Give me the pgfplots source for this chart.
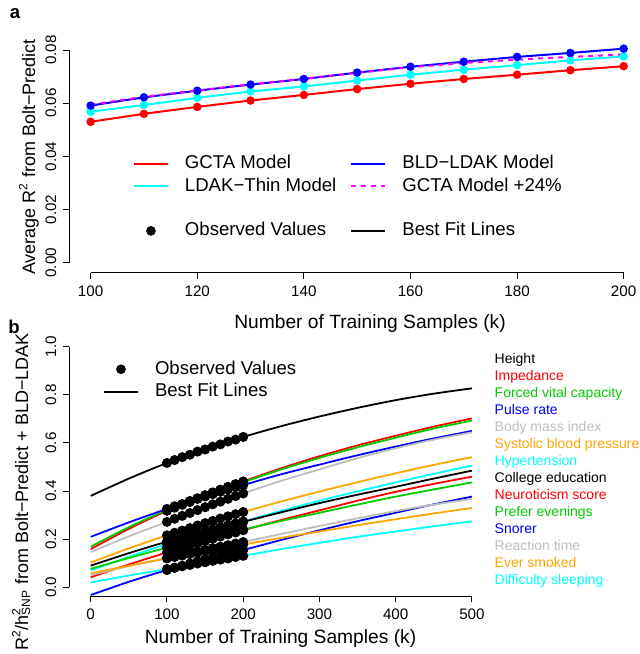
\documentclass[border=0pt]{standalone}
\usepackage{pgfplots}
\usepackage{pgfplotstable}
\pgfplotsset{compat=1.18}
\usepackage{fontspec}
\setmainfont{Liberation Sans}
\definecolor{rgreen}{HTML}{00CD00}
\definecolor{rorange}{HTML}{FFA500}
\definecolor{rgray}{HTML}{BEBEBE}
\definecolor{rcyan}{HTML}{00FFFF}
\definecolor{rred}{HTML}{FF0000}
\definecolor{rblue}{HTML}{0000FF}
\definecolor{rmag}{HTML}{FF00FF}
\newcommand{\lab}{\fontsize{9.3}{11}\selectfont}
\newcommand{\xlab}{\fontsize{9.6}{11}\selectfont}
\newcommand{\ylab}{\fontsize{9}{11}\selectfont}
\newcommand{\tck}{\fontsize{7.6}{9}\selectfont}
\newcommand{\trt}{\fontsize{7}{8}\selectfont}

\pgfplotstableread{
k    H      Imp    FVC    Pul    BMI    SBP    Hyp    Col    Neu    Pre    Sno     Rea    Smo    Dif
0    0.380  0.159  0.169  0.210  0.147  0.103  0.070  0.090  0.042  0.077  -0.032  0.051  0.058  0.020
50   0.452  0.243  0.250  0.270  0.212  0.162  0.127  0.142  0.095  0.122  0.023   0.088  0.090  0.049
100  0.517  0.318  0.322  0.326  0.272  0.216  0.180  0.190  0.145  0.165  0.072   0.122  0.120  0.076
150  0.574  0.382  0.382  0.378  0.333  0.267  0.229  0.233  0.192  0.204  0.116   0.156  0.150  0.104
200  0.625  0.440  0.437  0.425  0.390  0.313  0.274  0.272  0.237  0.240  0.155   0.188  0.178  0.131
250  0.670  0.495  0.490  0.470  0.443  0.357  0.318  0.312  0.280  0.276  0.197   0.222  0.206  0.159
300  0.710  0.545  0.538  0.510  0.490  0.398  0.360  0.350  0.320  0.310  0.237   0.255  0.232  0.185
350  0.746  0.590  0.582  0.549  0.537  0.437  0.399  0.385  0.360  0.344  0.275   0.287  0.258  0.210
400  0.778  0.630  0.622  0.585  0.578  0.474  0.436  0.418  0.397  0.377  0.310   0.317  0.283  0.232
450  0.805  0.668  0.660  0.619  0.614  0.509  0.472  0.452  0.430  0.407  0.345   0.344  0.307  0.254
500  0.827  0.702  0.693  0.650  0.644  0.541  0.506  0.485  0.460  0.436  0.377   0.367  0.330  0.274
}\fits

\pgfplotstableread{
k    H      Imp    FVC    Pul    BMI    SBP    Hyp    Col    Neu    Pre    Sno    Rea    Smo    Dif
100  0.517  0.318  0.322  0.326  0.272  0.216  0.180  0.190  0.145  0.165  0.072  0.122  0.120  0.076
110  0.529  0.331  0.334  0.337  0.285  0.227  0.190  0.199  0.155  0.173  0.081  0.129  0.126  0.082
120  0.541  0.343  0.345  0.346  0.297  0.236  0.200  0.208  0.164  0.181  0.090  0.136  0.132  0.087
130  0.551  0.355  0.359  0.356  0.309  0.246  0.210  0.216  0.174  0.189  0.099  0.143  0.138  0.093
140  0.564  0.368  0.370  0.368  0.321  0.257  0.220  0.225  0.183  0.196  0.108  0.149  0.144  0.099
150  0.573  0.379  0.383  0.378  0.333  0.267  0.229  0.233  0.192  0.204  0.116  0.156  0.150  0.104
160  0.585  0.394  0.394  0.387  0.345  0.276  0.238  0.241  0.202  0.211  0.124  0.163  0.156  0.110
170  0.594  0.406  0.405  0.397  0.356  0.286  0.248  0.249  0.211  0.219  0.132  0.169  0.161  0.115
180  0.606  0.418  0.416  0.407  0.368  0.295  0.257  0.257  0.220  0.226  0.140  0.175  0.167  0.120
190  0.614  0.429  0.427  0.416  0.379  0.304  0.265  0.265  0.228  0.233  0.148  0.182  0.173  0.126
200  0.625  0.440  0.437  0.425  0.390  0.313  0.274  0.272  0.237  0.240  0.155  0.188  0.178  0.131
}\obs

\pgfplotsset{
  rstyle/.style={
    scale only axis,
    axis x line*=bottom, axis y line*=left,
    axis line style={draw=none},
    tick align=outside, major tick length=3pt,
    tick style={black, line width=0.5pt},
    tick label style={font=\tck},
    /pgf/number format/assume math mode=true,
    yticklabel style={rotate=90, anchor=south},
    clip=false,
    legend image code/.code={\draw[#1] (0pt,0pt) -- (17pt,0pt);},
  },
  dotimg/.style={black, only marks, mark=*, mark size=2.2pt,
    legend image code/.code={\draw[mark repeat=2,mark phase=2,##1] plot coordinates {(0pt,0pt) (8.5pt,0pt) (17pt,0pt)};}},
}

\begin{document}
\begin{tikzpicture}
\path[use as bounding box] (0pt,0pt) rectangle (320pt,327pt);

% ---------------- panel a ----------------
\begin{axis}[rstyle,
  at={(34.65pt,190.65pt)}, anchor=south west,
  width=287.85pt, height=115.6pt,
  xmin=96, xmax=204, ymin=-0.00376, ymax=0.0832,
  xtick={100,120,...,200}, ytick={0,0.02,0.04,0.06,0.08},
  scaled y ticks=false,
  yticklabel style={/pgf/number format/.cd, fixed, fixed zerofill, precision=2},
  legend columns=2,
  legend cell align=left,
  legend style={draw=none, fill=none, at={(axis cs:107.94,0.04036)}, anchor=north west,
    font=\lab, inner sep=0pt, outer sep=0pt, row sep=2.55pt,
    nodes={inner sep=0pt, text height=6.7pt, text depth=1.9pt},
    /tikz/every odd column/.append style={column sep=8pt},
    /tikz/every even column/.append style={column sep=7pt}},
]
\addplot[rred, line width=1pt, mark=*, mark size=1.6pt, forget plot] coordinates {
(100,0.0530)(110,0.0560)(120,0.0586)(130,0.0610)(140,0.0631)(150,0.0653)(160,0.0673)(170,0.0691)(180,0.0707)(190,0.0724)(200,0.0739)};
\addplot[rcyan, line width=1pt, mark=*, mark size=1.6pt, forget plot] coordinates {
(100,0.0568)(110,0.0593)(120,0.0620)(130,0.0644)(140,0.0663)(150,0.0685)(160,0.0707)(170,0.0726)(180,0.0743)(190,0.0761)(200,0.0776)};
\addplot[rblue, line width=1pt, mark=*, mark size=1.6pt, forget plot] coordinates {
(100,0.0591)(110,0.0622)(120,0.0647)(130,0.0670)(140,0.0691)(150,0.0715)(160,0.0737)(170,0.0756)(180,0.0774)(190,0.0789)(200,0.0805)};
\addplot[rmag, line width=1pt, dash pattern=on 2.5pt off 2.5pt, forget plot] coordinates {
(100,0.0594)(110,0.0624)(120,0.0648)(130,0.0671)(140,0.0692)(150,0.0714)(160,0.0735)(170,0.0751)(180,0.0764)(190,0.0774)(200,0.0783)};
\addlegendimage{rred, line width=1pt}\addlegendentry{GCTA Model}
\addlegendimage{rblue, line width=1pt}\addlegendentry{BLD−LDAK Model}
\addlegendimage{rcyan, line width=1pt}\addlegendentry{LDAK−Thin Model}
\addlegendimage{rmag, line width=1pt, dash pattern=on 2.5pt off 2.5pt}\addlegendentry{GCTA Model +24\%}
\addlegendimage{empty legend}\addlegendentry{}
\addlegendimage{empty legend}\addlegendentry{}
\addlegendimage{dotimg}\addlegendentry{Observed Values}
\addlegendimage{black, line width=1pt}\addlegendentry{Best Fit Lines}
\draw[line width=0.5pt] (axis cs:100,-0.00376) -- (axis cs:200,-0.00376);
\draw[line width=0.5pt] (axis cs:96,0) -- (axis cs:96,0.08);
\end{axis}

% ---------------- panel b ----------------
\begin{axis}[rstyle,
  at={(34.65pt,29pt)}, anchor=south west,
  width=208.95pt, height=129.45pt,
  xmin=-28.1, xmax=520, ymin=-0.036, ymax=1.04,
  xtick={0,100,...,500}, ytick={0,0.2,0.4,0.6,0.8,1.0},
  yticklabel style={/pgf/number format/.cd, fixed, fixed zerofill, precision=1},
  legend columns=1,
  legend cell align=left,
  legend style={draw=none, fill=none, at={(axis cs:16.1,0.942)}, anchor=north west,
    font=\lab, inner sep=0pt, outer sep=0pt, row sep=2.55pt,
    nodes={inner sep=0pt, text height=6.7pt, text depth=1.9pt},
    /tikz/every odd column/.append style={column sep=8pt}},
]
\pgfplotsinvokeforeach{H,Imp,FVC,Pul,BMI,SBP,Hyp,Col,Neu,Pre,Sno,Rea,Smo,Dif}{
  \addplot[black, only marks, mark=*, mark size=2.3pt, forget plot] table[x=k, y=#1] {\obs};
}
\addplot[black,   line width=0.9pt, smooth, forget plot] table[x=k, y=H]   {\fits};
\addplot[rred,    line width=0.9pt, smooth, forget plot] table[x=k, y=Imp] {\fits};
\addplot[rgreen,  line width=0.9pt, smooth, forget plot] table[x=k, y=FVC] {\fits};
\addplot[rblue,   line width=0.9pt, smooth, forget plot] table[x=k, y=Pul] {\fits};
\addplot[rgray,   line width=0.9pt, smooth, forget plot] table[x=k, y=BMI] {\fits};
\addplot[rorange, line width=0.9pt, smooth, forget plot] table[x=k, y=SBP] {\fits};
\addplot[rcyan,   line width=0.9pt, smooth, forget plot] table[x=k, y=Hyp] {\fits};
\addplot[black,   line width=0.9pt, smooth, forget plot] table[x=k, y=Col] {\fits};
\addplot[rred,    line width=0.9pt, smooth, forget plot] table[x=k, y=Neu] {\fits};
\addplot[rgreen,  line width=0.9pt, smooth, forget plot] table[x=k, y=Pre] {\fits};
\addplot[rblue,   line width=0.9pt, smooth, forget plot] table[x=k, y=Sno] {\fits};
\addplot[rgray,   line width=0.9pt, smooth, forget plot] table[x=k, y=Rea] {\fits};
\addplot[rorange, line width=0.9pt, smooth, forget plot] table[x=k, y=Smo] {\fits};
\addplot[rcyan,   line width=0.9pt, smooth, forget plot] table[x=k, y=Dif] {\fits};
\addlegendimage{dotimg}\addlegendentry{Observed Values}
\addlegendimage{black, line width=1pt}\addlegendentry{Best Fit Lines}
\draw[line width=0.5pt] (axis cs:0,-0.036) -- (axis cs:500,-0.036);
\draw[line width=0.5pt] (axis cs:-28.1,0) -- (axis cs:-28.1,1);
\end{axis}

% ---------------- labels ----------------
\node[anchor=base, font=\xlab] at (185pt,162.65pt) {Number of Training Samples (k)};
\node[anchor=base, font=\xlab] at (140.25pt,5.15pt) {Number of Training Samples (k)};
\node[anchor=base, rotate=90, font=\ylab] at (17.5pt,248.5pt) {Average R\textsuperscript{2} from Bolt−Predict};
\node[anchor=base, rotate=90, font=\ylab] at (14pt,81pt) {R\textsuperscript{2}/h\rlap{\textsuperscript{2}}\textsubscript{SNP} from Bolt−Predict + BLD−LDAK};
\node[font=\lab\bfseries] at (7.5pt,320pt) {a};
\node[font=\lab\bfseries] at (7pt,163.5pt) {b};
\foreach \t/\c [count=\i from 0] in {Height/black, Impedance/rred, Forced vital capacity/rgreen, Pulse rate/rblue, Body mass index/rgray, Systolic blood pressure/rorange, Hypertension/rcyan, College education/black, Neuroticism score/rred, Prefer evenings/rgreen, Snorer/rblue, Reaction time/rgray, Ever smoked/rorange, Difficulty sleeping/rcyan}
  \node[anchor=base west, inner sep=0pt, text=\c, font=\trt] at (247.15pt, {(654-363.2-\i*17.05)*0.5pt}) {\t};
\end{tikzpicture}
\end{document}
